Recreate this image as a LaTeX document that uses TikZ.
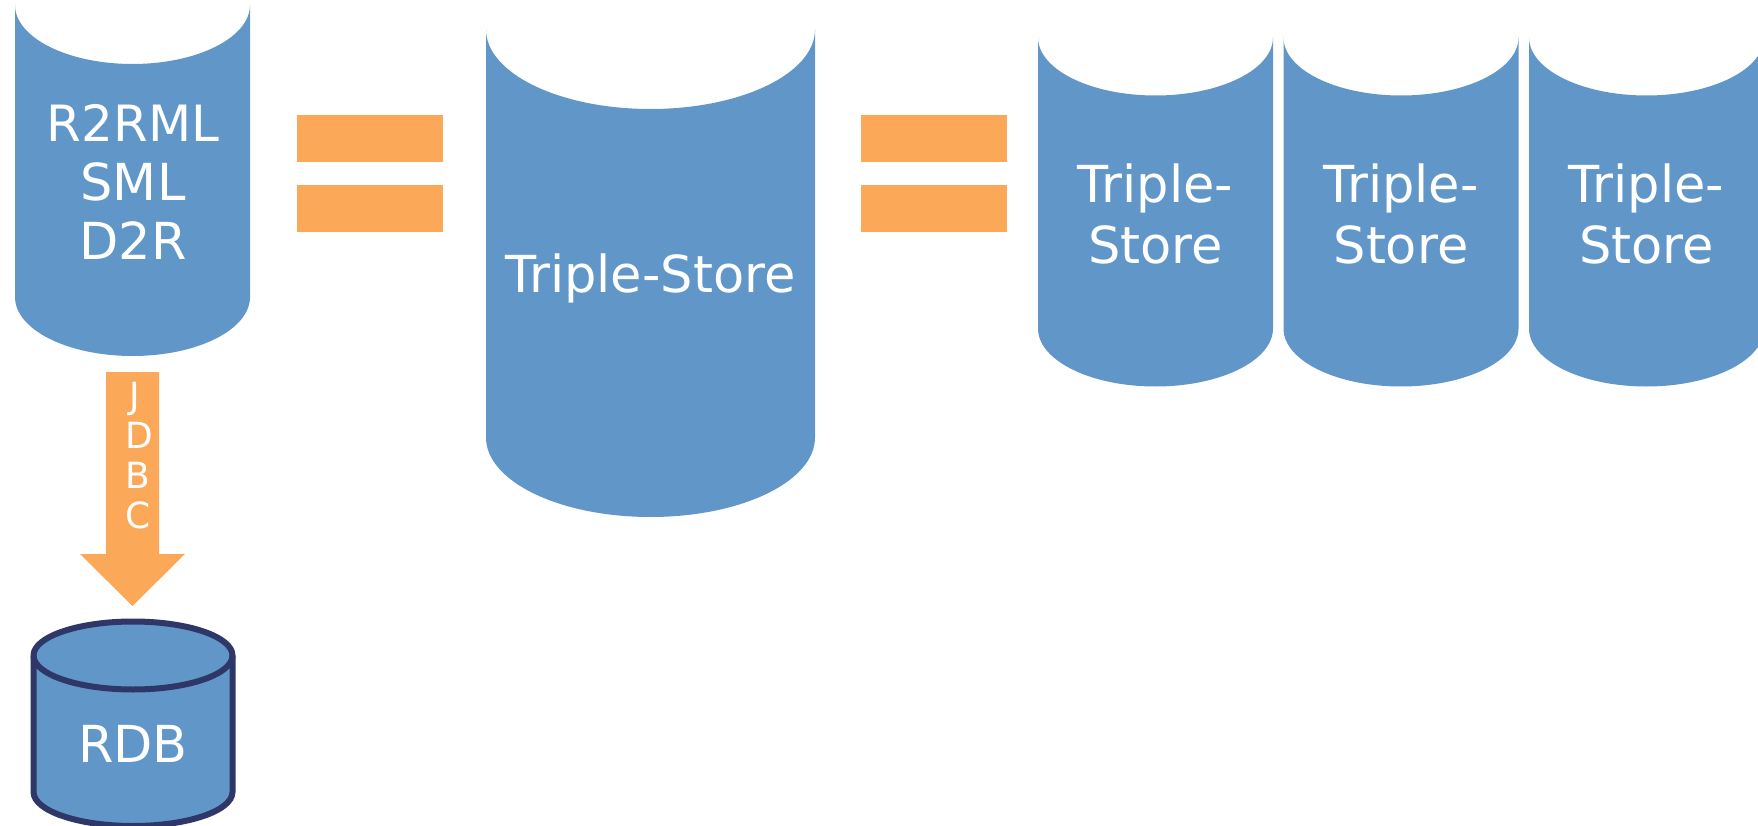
\documentclass[tikz,border=0pt]{standalone}
\usepackage{fontspec}
\setmainfont{DejaVu Sans}
\definecolor{cylblue}{RGB}{97,150,201}
\definecolor{barorange}{RGB}{251,169,89}
\definecolor{navy}{RGB}{47,55,104}
\newcommand{\cylpath}[5]{% left x, top side y, rx, ry, side height
  (#1,#2) arc[start angle=180,end angle=0,x radius=#3,y radius=#4]
  -- ++(0,#5) arc[start angle=0,end angle=180,x radius=#3,y radius=#4] -- cycle}
\tikzset{
  x=1pt,y=-1pt,
  cyl/.style={fill=cylblue,draw=none},
  bar/.style={fill=barorange,draw=none,minimum width=146pt,minimum height=47pt,inner sep=0pt,outer sep=0pt},
  big/.style={text=white,align=center,inner sep=0pt,font=\fontsize{51}{61}\selectfont},
  small/.style={text=white,align=left,inner sep=0pt,font=\fontsize{36}{40}\selectfont},
}
\begin{document}
\begin{tikzpicture}
\useasboundingbox (0,0) rectangle (1758,826);
% cylinders
\path[cyl] \cylpath{15}{5}{117.5}{59}{292};
\path[cyl] \cylpath{486}{29.5}{164.5}{79.5}{408};
\path[cyl] \cylpath{1038}{37.5}{117.5}{58}{291};
\path[cyl] \cylpath{1283.5}{37.5}{117.5}{58}{291};
\path[cyl] \cylpath{1529}{37.5}{117.5}{58}{291};
% RDB
\path[fill=cylblue,draw=navy,line width=6pt] (33.5,655.5)
  -- (33.5,792) arc[start angle=180,end angle=0,x radius=99.5,y radius=34]
  -- (232.5,655.5) arc[start angle=0,end angle=-180,x radius=99.5,y radius=34] -- cycle;
\draw[navy,line width=6pt] (33.5,655.5) arc[start angle=180,end angle=0,x radius=99.5,y radius=34];
% text
\node[big] (mapping) at (133,182) {{\fontsize{50}{59}\selectfont R2RML}\\[-2pt]SML\\[-2pt]D2R};
\node[big] (store) at (650.5,278) {Triple-Store};
\node[big] (storeA) at (1155.5,214) {Triple-\\Store};
\node[big] (storeB) at (1401,214) {Triple-\\Store};
\node[big] (storeC) at (1646.5,214) {Triple-\\Store};
\node[big] (rdb) at (133,744) {RDB};
% equals
\node[bar] (eqAtop) at (370,138.5) {};
\node[bar] (eqAbot) at (370,208.5) {};
\node[bar] (eqBtop) at (934,138.5) {};
\node[bar] (eqBbot) at (934,208.5) {};
% block arrow
\path[fill=barorange] (106,372) -- (159,372) -- (159,554) -- (185,554) -- (132.5,606) -- (80,554) -- (106,554) -- cycle;
\node[small,anchor=north west] (jdbc) at (125.5,382) {\hspace*{4pt}J\\D\\B\\C};
\end{tikzpicture}
\end{document}
